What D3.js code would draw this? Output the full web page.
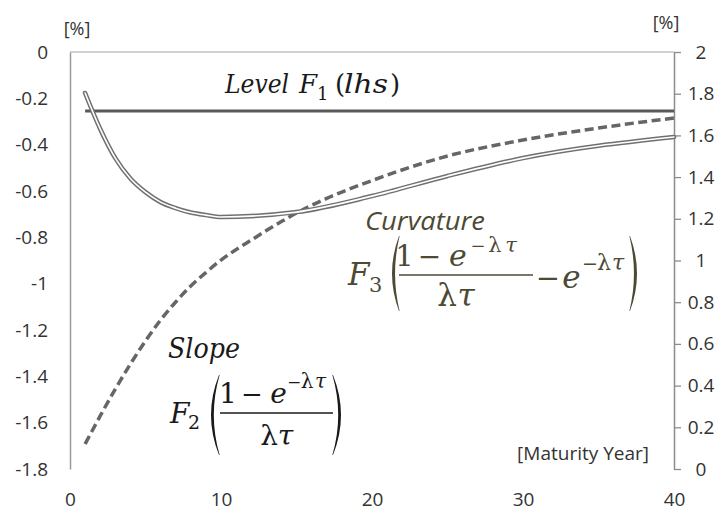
<!DOCTYPE html>
<html><head><meta charset="utf-8">
<script src="https://cdn.jsdelivr.net/npm/d3@7"></script>
<style>body{margin:0;background:#fff}svg{display:block}</style>
</head><body>
<svg id="c" width="724" height="512"></svg>
<script>
// ---- data ----
const levelMaturity = [1, 40];
const levelValues   = [-0.255, -0.255];
const slopeMaturity = [1,2,3,4,5,6,7,8,9,10,11,12,13,14,15,17,20,25,30,35,40];
const slopeValues   = [-1.692,-1.571,-1.455,-1.347,-1.247,-1.157,-1.079,-1.010,-0.952,-0.898,-0.853,-0.812,-0.771,-0.732,-0.695,-0.632,-0.555,-0.449,-0.380,-0.328,-0.285];
const curvMaturity  = [1,2,3,4,5,6,7,8,9,10,15,20,25,30,40];
const curvValues    = [-0.177,-0.332,-0.458,-0.546,-0.605,-0.648,-0.674,-0.693,-0.704,-0.712,-0.691,-0.622,-0.535,-0.458,-0.367];
const xTicks = [0,10,20,30,40];
const leftTicks = [0,-0.2,-0.4,-0.6,-0.8,-1,-1.2,-1.4,-1.6,-1.8];
const leftTickLabels = ["0","-0.2","-0.4","-0.6","-0.8","-1","-1.2","-1.4","-1.6","-1.8"];
const rightTicks = [0,0.2,0.4,0.6,0.8,1,1.2,1.4,1.6,1.8,2];
const rightTickLabels = ["0","0.2","0.4","0.6","0.8","1","1.2","1.4","1.6","1.8","2"];

const svg = d3.select("#c");
const L = 70, R = 674, T = 52, B = 469;
const x  = d3.scaleLinear().domain([0,40]).range([L,R]);
const yL = d3.scaleLinear().domain([-1.8,0]).range([B,T]);
const yR = d3.scaleLinear().domain([0,2]).range([B,T]);
const tickFont = "'Open Sans', 'Noto Sans', sans-serif";
const serif = "'DejaVu Serif', serif";
const tickSize = 19;

// top border
svg.append("line").attr("x1",L).attr("x2",R).attr("y1",T).attr("y2",T)
  .attr("stroke","#c0c0c0").attr("stroke-width",1.5);

// left axis
const gl = svg.append("g").attr("transform",`translate(${L},0)`)
  .call(d3.axisLeft(yL).tickValues(leftTicks).tickFormat((d,i)=>leftTickLabels[i])
  .tickSizeInner(0).tickSizeOuter(0).tickPadding(22));
gl.select(".domain").attr("stroke","#9a9a9a").attr("stroke-width",1.5);
gl.selectAll("text").attr("font-family",tickFont).attr("font-size",tickSize).attr("fill","#333");

// right axis
const gr = svg.append("g").attr("transform",`translate(${R},0)`)
  .call(d3.axisRight(yR).tickValues(rightTicks).tickFormat((d,i)=>rightTickLabels[i])
  .tickSizeInner(7).tickSizeOuter(0));
gr.select(".domain").attr("stroke","#8c8c8c").attr("stroke-width",1.5);
gr.selectAll(".tick line").attr("stroke","#8c8c8c").attr("stroke-width",1.3);
gr.selectAll("text").attr("font-family",tickFont).attr("font-size",tickSize).attr("fill","#333")
  .attr("x",27).attr("text-anchor","middle");

// bottom axis (labels only)
const gb = svg.append("g").attr("transform",`translate(0,${B})`)
  .call(d3.axisBottom(x).tickValues(xTicks).tickFormat(d3.format("d"))
  .tickSizeInner(0).tickSizeOuter(0).tickPadding(24));
gb.select(".domain").remove();
gb.selectAll("text").attr("font-family",tickFont).attr("font-size",tickSize).attr("fill","#333");

// unit labels
svg.append("text").attr("x",77).attr("y",35).attr("text-anchor","middle")
  .attr("font-family",tickFont).attr("font-size",18).attr("fill","#333").text("[%]");
svg.append("text").attr("x",666).attr("y",29).attr("text-anchor","middle")
  .attr("font-family",tickFont).attr("font-size",18).attr("fill","#333").text("[%]");
svg.append("text").attr("x",649).attr("y",460).attr("text-anchor","end")
  .attr("font-family",tickFont).attr("font-size",19).attr("fill","#333").text("[Maturity Year]");

// ---- series ----
const lineL = (mat) => d3.line().x((d,i)=>x(mat[i])).y(d=>yL(d));
// level
svg.append("path").datum(levelValues).attr("d",lineL(levelMaturity))
  .attr("fill","none").attr("stroke","#595959").attr("stroke-width",3);
// slope (dashed)
svg.append("path").datum(slopeValues).attr("d",lineL(slopeMaturity).curve(d3.curveMonotoneX))
  .attr("fill","none").attr("stroke","#666").attr("stroke-width",3.5)
  .attr("stroke-dasharray","9,4.5");
// curvature (double line)
const curvPath = lineL(curvMaturity).curve(d3.curveMonotoneX);
svg.append("path").datum(curvValues).attr("d",curvPath)
  .attr("fill","none").attr("stroke","#707070").attr("stroke-width",4.6).attr("stroke-linecap","round");
svg.append("path").datum(curvValues).attr("d",curvPath)
  .attr("fill","none").attr("stroke","#fff").attr("stroke-width",1.6).attr("stroke-linecap","round");

// ---- annotations ----
function txt(s, px, py, size, opts={}) {
  const t = svg.append("text").attr("x",px).attr("y",py)
    .attr("font-family",opts.family||serif).attr("font-size",size)
    .attr("font-style",opts.italic?"italic":"normal")
    .attr("fill",opts.fill||"#1a1a1a")
    .attr("text-anchor",opts.anchor||"start").text(s);
  if (opts.len) t.attr("textLength",opts.len).attr("lengthAdjust","spacingAndGlyphs");
  return t;
}
const mid = (s,px,py,size,o={}) => txt(s,px,py,size,Object.assign({anchor:"middle"},o));
function paren(x0, xb, y0, y1, fill, th) {
  const ym = (y0+y1)/2, dir = xb < x0 ? 1 : -1;
  svg.append("path")
    .attr("d",`M${x0},${y0} Q${xb},${ym} ${x0},${y1} L${x0+dir*0.6},${y1} Q${xb+dir*th},${ym} ${x0+dir*0.6},${y0} Z`)
    .attr("fill",fill);
}

// Level F1 (lhs)
txt("Level",225,93,26,{italic:true,len:64});
txt("F",299,93,26,{italic:true});
txt("1",317,100,18);
txt("(",335,93,26);
txt("lhs",344,93,26,{italic:true,len:44});
txt(")",390,93,26);

// Slope
const k = "#1a1a1a";
txt("Slope",168,358,27,{italic:true,len:72});
txt("F",170,423,28,{italic:true});
txt("2",188,429,19);
paren(219,203,375,455,k,5);
mid("1",228,403,28);
mid("−",252,403,26);
mid("e",278.5,403,28,{italic:true});
mid("−",294,388,17);
mid("λ",307,388,20);
mid("τ",320.5,388,20,{italic:true});
svg.append("line").attr("x1",220).attr("x2",333).attr("y1",413).attr("y2",413).attr("stroke",k).attr("stroke-width",1.5);
mid("λ",269,445,28);
mid("τ",285.5,445,28,{italic:true});
paren(333,349,375,455,k,5);

// Curvature
const olive = "#4d4a34";
txt("Curvature",365,230,26,{italic:true,family:tickFont,fill:olive,len:120});
txt("F",348,285,31,{italic:true,fill:olive});
txt("3",369,292,21,{fill:olive});
paren(399,385,236,311,olive,5.5);
mid("1",404.5,266,29,{fill:olive});
mid("−",429.5,266,28,{fill:olive});
mid("e",458,266,30,{italic:true,fill:olive});
mid("−",478,252,18,{fill:olive});
mid("λ",495,252,21,{fill:olive});
mid("τ",511,252,21,{italic:true,fill:olive});
svg.append("line").attr("x1",399).attr("x2",533).attr("y1",275).attr("y2",275).attr("stroke",olive).attr("stroke-width",1.6);
mid("λ",447,306,31,{fill:olive});
mid("τ",466,306,31,{italic:true,fill:olive});
mid("−",548,288,29,{fill:olive});
mid("e",571.5,288,31,{italic:true,fill:olive});
mid("−",590,270,19,{fill:olive});
mid("λ",604,270,22,{fill:olive});
mid("τ",618,270,22,{italic:true,fill:olive});
paren(630,644,236,311,olive,5.5);
</script>
</body></html>
